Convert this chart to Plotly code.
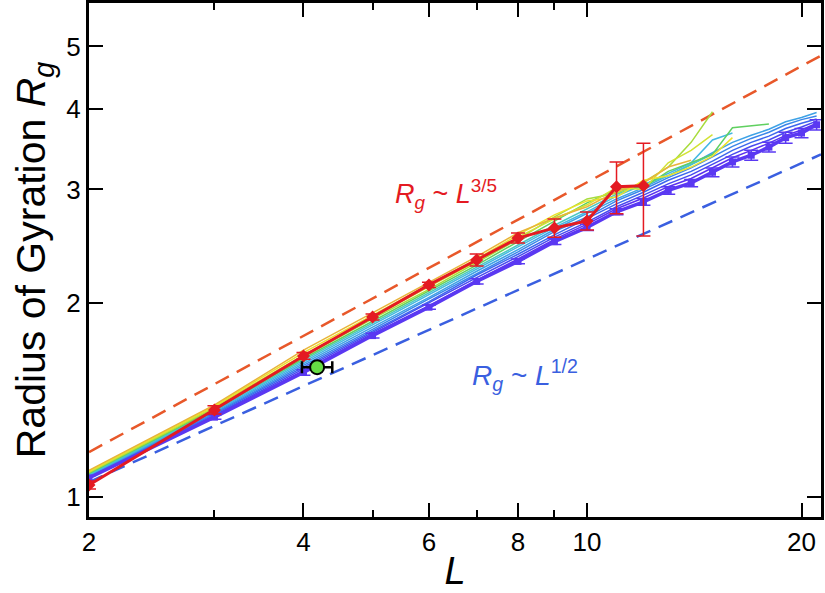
import numpy as np
import plotly.graph_objects as go

FONT = "Liberation Sans, Arial, Helvetica, sans-serif"

# chain length L
L_all = [2, 3, 4, 5, 6, 7, 8, 9, 10, 11, 12, 13, 14, 15, 16, 17, 18, 19, 20, 21]

# thick purple series (with error bars)
rg_purple = [1.07, 1.33, 1.56, 1.78, 1.97, 2.16, 2.32, 2.49, 2.62, 2.77, 2.87,
             2.99, 3.07, 3.19, 3.31, 3.39, 3.49, 3.61, 3.67, 3.78]
err_purple = [0.01, 0.01, 0.015, 0.015, 0.015, 0.02, 0.02, 0.025, 0.03, 0.03, 0.035,
              0.04, 0.04, 0.05, 0.06, 0.06, 0.06, 0.07, 0.06, 0.07]

# red series (diamonds + error bars)
L_red = [2, 3, 4, 5, 6, 7, 8, 9, 10, 11, 12]
rg_red = [1.044, 1.365, 1.655, 1.902, 2.133, 2.332, 2.522, 2.615, 2.681, 3.03, 3.04]
err_red = [0.015, 0.02, 0.02, 0.02, 0.02, 0.05, 0.045, 0.085, 0.086, 0.28, 0.50]

# thin rainbow curves, bottom (violet) to top (orange)
rainbow_colors = ["#5a30f0", "#4848f0", "#3c66ee", "#3a86ea", "#3ea2e6", "#44b8e2",
                  "#4cc8c0", "#60d060", "#a8dc3c", "#d2e234", "#ece22c", "#e8b43a"]
rainbow_rg = [
    [1.072, 1.335, 1.57, 1.79, 1.98, 2.17, 2.34, 2.51, 2.65, 2.80, 2.91, 3.03, 3.12, 3.24, 3.36, 3.45, 3.54, 3.64, 3.71, 3.80],
    [1.074, 1.34, 1.58, 1.80, 2.00, 2.19, 2.36, 2.53, 2.67, 2.82, 2.94, 3.06, 3.16, 3.28, 3.40, 3.50, 3.58, 3.68, 3.75, 3.83],
    [1.076, 1.345, 1.59, 1.81, 2.01, 2.21, 2.38, 2.55, 2.70, 2.85, 2.97, 3.10, 3.20, 3.32, 3.45, 3.55, 3.63, 3.73, 3.80, 3.86],
    [1.078, 1.35, 1.60, 1.82, 2.03, 2.22, 2.40, 2.58, 2.72, 2.88, 3.00, 3.13, 3.24, 3.37, 3.50, 3.60, 3.68, 3.78, 3.85, 3.90],
    [1.080, 1.355, 1.61, 1.835, 2.04, 2.24, 2.42, 2.60, 2.75, 2.90, 3.02, 3.15, 3.28, 3.42, 3.55, 3.64, 3.72, 3.82, 3.88, 3.95],
    [1.082, 1.36, 1.62, 1.85, 2.06, 2.26, 2.44, 2.62, 2.77, 2.93, 3.05, 3.18, 3.30, 3.58, 3.67],
    [1.085, 1.365, 1.63, 1.86, 2.07, 2.27, 2.46, 2.64, 2.80, 2.95, 3.05, 3.15, 3.28, 3.40],
    [1.088, 1.37, 1.64, 1.875, 2.09, 2.29, 2.49, 2.68, 2.86, 3.00, 3.02, 3.20, 3.30, 3.40, 3.74, 3.77, 3.79],
    [1.091, 1.375, 1.65, 1.89, 2.10, 2.31, 2.51, 2.72, 2.90, 2.96, 3.08, 3.25, 3.55, 3.96],
    [1.094, 1.38, 1.66, 1.90, 2.12, 2.32, 2.53, 2.70, 2.84, 3.02, 3.00, 3.30, 3.45, 3.65],
    [1.097, 1.385, 1.675, 1.915, 2.135, 2.34, 2.55, 2.74, 2.88, 2.92, 3.10, 3.15, 3.25, 3.38, 3.61],
    [1.10, 1.39, 1.69, 1.93, 2.15, 2.36, 2.57, 2.71, 2.82, 2.98, 3.07, 3.25, 3.33],
]

# scaling guide lines (end points)
guide_L = [2, 21.3]
guide_35 = [1.174, 4.84]
guide_12 = [1.055, 3.40]

# single green point
green_L = [4.18]
green_rg = [1.59]
green_xerr_plus = [0.21]
green_xerr_minus = [0.2]

fig = go.Figure()

fig.add_trace(go.Scatter(x=guide_L, y=guide_35, mode="lines",
                         line=dict(color="#e8582a", width=2.5, dash="15px,9px"), showlegend=False))
fig.add_trace(go.Scatter(x=guide_L, y=guide_12, mode="lines",
                         line=dict(color="#3a5fe0", width=2.5, dash="15px,9px"), showlegend=False))

for col, vals in zip(rainbow_colors, rainbow_rg):
    fig.add_trace(go.Scatter(x=L_all[:len(vals)], y=vals, mode="lines",
                             line=dict(color=col, width=1.5), showlegend=False))

fig.add_trace(go.Scatter(x=L_all, y=rg_purple, mode="lines+markers",
                         line=dict(color="#5a38f2", width=3.5),
                         marker=dict(symbol="square", size=7, color="#5a38f2"),
                         error_y=dict(type="data", array=err_purple, color="#5a38f2",
                                      thickness=1.5, width=7),
                         showlegend=False))

fig.add_trace(go.Scatter(x=L_red, y=rg_red, mode="lines+markers",
                         line=dict(color="#e41a22", width=3),
                         marker=dict(symbol="diamond", size=10, color="#e41a22"),
                         error_y=dict(type="data", array=err_red, color="#e41a22",
                                      thickness=1.5, width=7),
                         showlegend=False))

fig.add_trace(go.Scatter(x=green_L, y=green_rg, mode="markers",
                         marker=dict(symbol="circle", size=14, color="#66dd44",
                                     line=dict(color="black", width=2)),
                         error_x=dict(type="data", array=green_xerr_plus,
                                      arrayminus=green_xerr_minus, color="black",
                                      thickness=2.5, width=6),
                         showlegend=False))

fig.add_annotation(x=np.log10(5.34), y=np.log10(2.95), xref="x", yref="y",
                   xanchor="left", yanchor="middle", showarrow=False,
                   text="<i>R<sub>g</sub></i> ~ <i>L</i><sup>3/5</sup>",
                   font=dict(family=FONT, size=27, color="#e41a22"))
fig.add_annotation(x=np.log10(6.85), y=np.log10(1.546), xref="x", yref="y",
                   xanchor="left", yanchor="middle", showarrow=False,
                   text="<i>R<sub>g</sub></i> ~ <i>L</i><sup>1/2</sup>",
                   font=dict(family=FONT, size=28, color="#3a5fe0"))

axis_common = dict(showline=True, linecolor="black", linewidth=3, mirror="allticks",
                   ticks="inside", ticklen=14, tickwidth=2, tickcolor="black",
                   showgrid=False, zeroline=False, automargin=False,
                   tickfont=dict(family=FONT, size=26, color="black"))

fig.update_xaxes(type="log", range=[np.log10(2), np.log10(21.3)],
                 tickvals=[2, 4, 6, 8, 10, 20], ticktext=["2", "4", "6", "8", "10", "20"],
                 minor=dict(tickvals=[3, 5, 7, 9], ticklen=7, tickwidth=2,
                            tickcolor="black", ticks="inside", showgrid=False),
                 title=dict(text="<i>L</i>", font=dict(family=FONT, size=38, color="black"),
                            standoff=2),
                 **axis_common)
fig.update_yaxes(type="log", range=[np.log10(0.931), np.log10(5.84)],
                 tickvals=[1, 2, 3, 4, 5], ticktext=["1", "2", "3", "4", "5"],
                 title=dict(text="Radius of Gyration <i>R<sub>g</sub></i>",
                            font=dict(family=FONT, size=41, color="black"), standoff=8),
                 **axis_common)

fig.update_layout(width=825, height=593, margin=dict(l=89, r=4, t=3, b=76),
                  plot_bgcolor="white", paper_bgcolor="white",
                  font=dict(family=FONT))

# drop the browser's default page margin so the figure sits at the window corner
fig.write_html("out.html", config={"displayModeBar": False},
               post_script="document.body.style.margin='0';")
